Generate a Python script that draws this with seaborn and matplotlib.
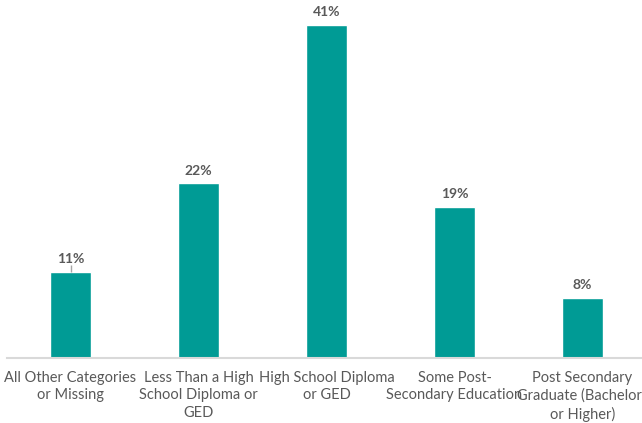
import matplotlib
matplotlib.use("Agg")
import matplotlib.pyplot as plt
import seaborn as sns
import pandas as pd

categories = ["All Other Categories\nor Missing",
              "Less Than a High\nSchool Diploma or\nGED",
              "High School Diploma\nor GED",
              "Some Post-\nSecondary Education",
              "Post Secondary\nGraduate (Bachelors\nor Higher)"]
values = [10.6, 21.5, 41.0, 18.6, 7.4]
labels = ["11%", "22%", "41%", "19%", "8%"]

sns.set_theme(style="white")
plt.rcParams['font.family'] = ['Lato', 'DejaVu Sans']

df = pd.DataFrame({"cat": categories, "val": values})

fig = plt.figure(figsize=(6.42, 4.23), dpi=100)
# axes spans category band; right edge extends past figure
ax = fig.add_axes([6.5/642, 65/423, 640/642, 358/423])
sns.barplot(data=df, x="cat", y="val", color="#009B95", width=0.32,
            saturation=1, ax=ax)
ax.set_ylim(0, 44.1)
ax.set_xlim(-0.5, 4.5)
ax.set_xlabel("")
ax.set_ylabel("")
ax.set_yticks([])
for s in ["top", "right", "left"]:
    ax.spines[s].set_visible(False)
ax.spines["bottom"].set_color("#D9D9D9")
ax.spines["bottom"].set_linewidth(1.5)
ax.tick_params(axis="x", length=0, pad=9, labelsize=10.5, colors="#595959")
for t in ax.get_xticklabels():
    t.set_ha("center")
    t.set_linespacing(1.36)

for i, (v, lab) in enumerate(zip(values, labels)):
    ax.text(i, v + 0.85, lab, ha="center", va="bottom", fontsize=10,
            fontweight="bold", color="#595959")
# leader line on first label
ax.vlines(0, values[0], values[0] + 0.85, color="#A6A6A6", linewidth=1)

fig.savefig("out.png", dpi=100)
